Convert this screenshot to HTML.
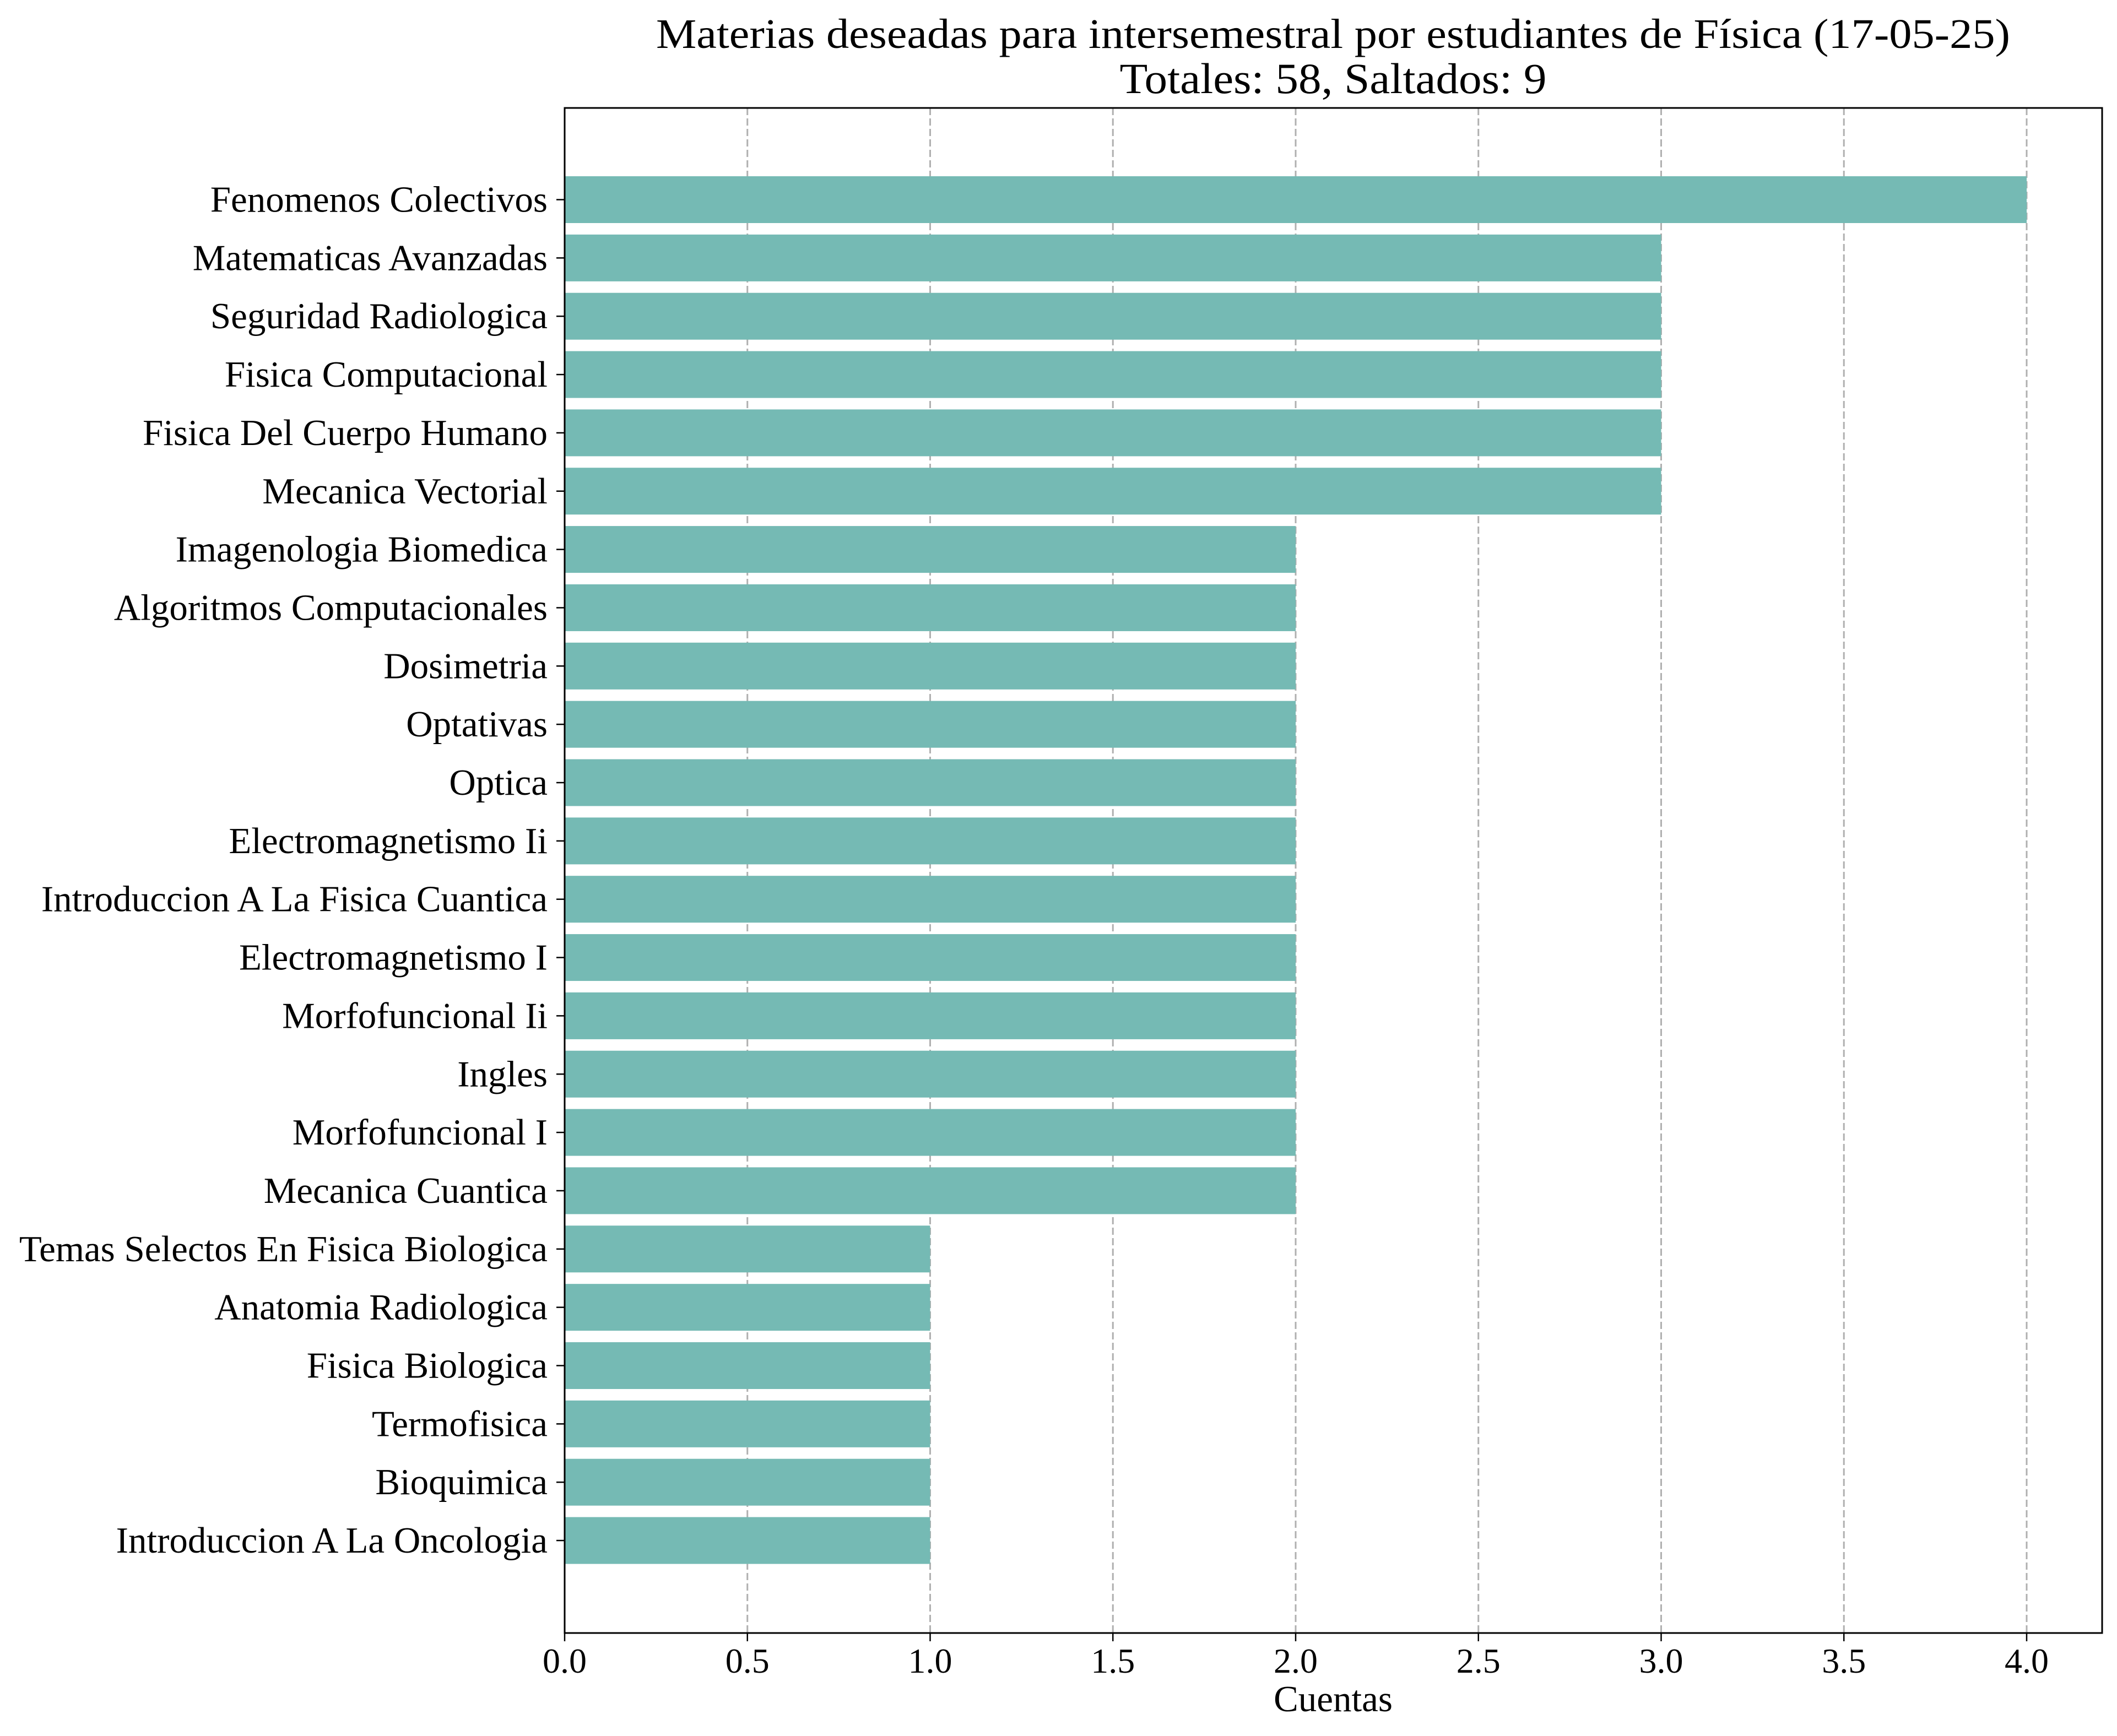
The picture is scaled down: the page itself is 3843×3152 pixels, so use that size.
<!DOCTYPE html>
<html><head><meta charset="utf-8"><style>
html,body{margin:0;padding:0;background:#fff}
svg{display:block}
text{font-family:"Liberation Serif",serif;fill:#000}
</style></head><body>
<svg id="chart" width="3843" height="3152" viewBox="0 0 3843 3152" xmlns="http://www.w3.org/2000/svg">
<rect width="3843" height="3152" fill="#fff"/>
<text x="2420" y="87" font-size="76" text-anchor="middle" textLength="2458" lengthAdjust="spacingAndGlyphs">Materias deseadas para intersemestral por estudiantes de Física (17-05-25)</text>
<text x="2420" y="169" font-size="78" text-anchor="middle" textLength="775" lengthAdjust="spacingAndGlyphs">Totales: 58, Saltados: 9</text>
<g id="grid"></g>
<g id="bars"></g>
<g id="yticks"></g>
<g id="xticks"></g>
<rect x="1025" y="196" width="2791" height="2769" fill="none" stroke="#000" stroke-width="3"/>
<text x="2420" y="3107" font-size="67" text-anchor="middle">Cuentas</text>
</svg>
<script>
const categories = ["Fenomenos Colectivos","Matematicas Avanzadas","Seguridad Radiologica","Fisica Computacional","Fisica Del Cuerpo Humano","Mecanica Vectorial","Imagenologia Biomedica","Algoritmos Computacionales","Dosimetria","Optativas","Optica","Electromagnetismo Ii","Introduccion A La Fisica Cuantica","Electromagnetismo I","Morfofuncional Ii","Ingles","Morfofuncional I","Mecanica Cuantica","Temas Selectos En Fisica Biologica","Anatomia Radiologica","Fisica Biologica","Termofisica","Bioquimica","Introduccion A La Oncologia"];
const counts = [4,3,3,3,3,3,2,2,2,2,2,2,2,2,2,2,2,2,1,1,1,1,1,1];
const xTicks = [0,0.5,1,1.5,2,2.5,3,3.5,4];
const xTickLabels = ["0.0","0.5","1.0","1.5","2.0","2.5","3.0","3.5","4.0"];

const NS = "http://www.w3.org/2000/svg";
const X0 = 1025, UNIT = 663.5, TOP = 196, BOT = 2965;
const Y0 = 362.5, STEP = 105.85, BH = 85;
function xPos(v){ return X0 + v * UNIT; }
function yPos(i){ return Y0 + i * STEP; }
function mk(tag, attrs, parent){ const e = document.createElementNS(NS, tag); for (const k in attrs) e.setAttribute(k, attrs[k]); parent.appendChild(e); return e; }

const grid = document.getElementById('grid');
const bars = document.getElementById('bars');
const yt = document.getElementById('yticks');
const xt = document.getElementById('xticks');

xTicks.forEach((t, i) => {
  const x = xPos(t);
  const g = mk('line', {x1:x, x2:x, y1:TOP, y2:BOT, stroke:'#b0b0b0', 'stroke-width':3, 'stroke-dasharray':'13 6'}, grid);
  
  
  const tk = mk('line', {x1:x, x2:x, y1:BOT, y2:BOT+15, stroke:'#000', 'stroke-width':2.5}, xt);
  
  
  const tl = mk('text', {x:x, y:3037, 'font-size':64, 'text-anchor':'middle'}, xt);
  tl.textContent = xTickLabels[i];
  
  
});

categories.forEach((c, i) => {
  const y = yPos(i);
  const r = mk('rect', {x:X0, y:y - BH/2, width:xPos(counts[i]) - X0, height:BH, fill:'#75bab4'}, bars);
  
  
  const tk = mk('line', {x1:X0-15, x2:X0, y1:y, y2:y, stroke:'#000', 'stroke-width':2.5}, yt);
  
  
  const tl = mk('text', {x:994, y:y + 22, 'font-size':67, 'text-anchor':'end'}, yt);
  tl.textContent = c;
  
  
});
</script>
</body></html>
